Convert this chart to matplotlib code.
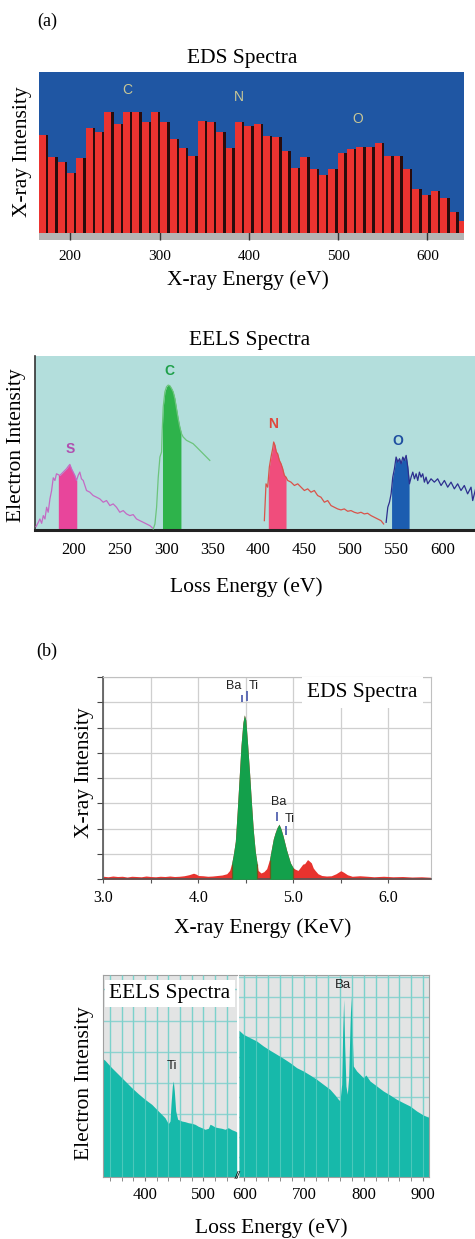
import numpy as np
import matplotlib
matplotlib.use("Agg")
from matplotlib import pyplot as plt

W, H = 475, 1239
SERIF = "Liberation Serif"
SANS = "Liberation Sans"
plt.rcParams["font.family"] = [SERIF, "DejaVu Serif"]

# ---------------- (a) EDS histogram ----------------
eds_a_centers = [170.2, 180.7, 191.1, 201.6, 212.0, 222.5, 232.9, 243.4, 253.8, 264.3,
                 274.7, 285.2, 295.6, 306.1, 316.5, 327.0, 337.4, 347.9, 358.3, 368.8,
                 379.2, 389.7, 400.1, 410.6, 421.0, 431.5, 441.9, 452.4, 462.8, 473.3,
                 483.7, 494.2, 504.6, 515.1, 525.5, 536.0, 546.4, 556.9, 567.3, 577.8,
                 588.2, 598.7, 609.1, 619.6, 630.0, 640.5]
eds_a_counts = [295, 230, 215, 180, 225, 315, 305, 365, 328, 365,
                365, 335, 365, 335, 283, 255, 233, 338, 335, 305,
                255, 335, 322, 329, 292, 288, 248, 195, 228, 193,
                175, 192, 240, 252, 258, 260, 270, 232, 232, 194,
                132, 115, 127, 104, 62, 35]
eds_a_bin = 10.45
eds_a_elements = ["C", "N", "O"]
eds_a_elem_x = [264, 389, 522]
eds_a_elem_y = [432, 410, 343]

# ---------------- (a) EELS edges ----------------
s_energy = [158.8, 161.3, 163.0, 164.9, 166.7, 168.5, 170.3, 172.0, 173.9, 175.7,
            177.5, 179.3, 181.0, 184.7, 188.3, 191.9, 193.7, 195.5, 197.3, 199.1,
            200.9, 202.7, 204.5, 206.3, 208.1, 210.0, 211.8, 213.6, 217.2, 220.8,
            224.5, 228.0, 231.7, 235.3, 238.9, 242.5, 246.1, 249.7, 253.4, 257.0,
            260.6, 264.2, 267.8, 271.4, 275.1, 278.7, 282.3, 285.2]
s_int = [10, 23, 33, 20, 43, 33, 68, 53, 93, 118,
         156, 148, 168, 163, 173, 183, 190, 196, 183, 173,
         163, 148, 163, 173, 153, 148, 133, 118, 113, 103,
         98, 93, 83, 88, 73, 78, 68, 53, 58, 48,
         43, 46, 33, 28, 23, 18, 13, 6]
c_energy = [286.0, 287.8, 289.6, 291.4, 293.2, 295.0, 295.7, 296.8, 298.6, 300.4,
            302.2, 304.0, 305.8, 307.6, 309.4, 311.2, 313.0, 314.8, 316.6, 318.4,
            322.0, 325.6, 329.2, 332.9, 336.5, 340.1, 343.7, 347.3]
c_int = [3, 18, 68, 158, 218, 233, 298, 368, 413, 428,
         433, 431, 423, 413, 393, 363, 333, 308, 288, 278,
         268, 263, 258, 248, 238, 228, 218, 208]
n_energy = [406.5, 408.3, 410.1, 411.9, 413.7, 415.5, 416.6, 418.0, 419.5, 420.9,
            422.8, 424.6, 426.4, 428.2, 430.0, 431.8, 435.4, 439.1, 442.7, 446.3,
            449.9, 453.5, 457.1, 460.7, 464.3, 467.9, 471.6, 475.2, 478.8, 482.4,
            486.0, 489.6, 493.2, 496.9, 500.5, 504.1, 507.7, 511.3, 514.9, 518.5,
            522.2, 525.8, 529.4, 533.0, 535.9]
n_int = [28, 138, 128, 188, 218, 243, 263, 253, 233, 228,
         208, 198, 183, 163, 158, 148, 143, 133, 138, 128,
         118, 123, 113, 118, 103, 98, 83, 88, 73, 68,
         63, 60, 63, 56, 58, 53, 50, 53, 48, 50,
         43, 38, 33, 28, 18]
o_energy = [538.6, 540.4, 542.2, 544.0, 545.8, 547.6, 549.4, 551.3, 553.1, 554.9,
            556.7, 558.5, 560.3, 562.1, 563.9, 565.7, 567.5, 569.3, 571.1, 572.9,
            574.7, 576.5, 578.3, 580.1, 581.9, 583.7, 587.3, 590.9, 594.5, 598.2,
            601.8, 605.4, 609.0, 612.6, 616.2, 619.8, 623.4, 627.0, 630.7, 632.5,
            634.3, 636.1]
o_int = [23, 68, 83, 108, 158, 183, 218, 203, 213, 198,
         218, 208, 223, 188, 138, 158, 173, 153, 168, 148,
         173, 158, 168, 143, 158, 138, 153, 143, 153, 133,
         148, 128, 143, 123, 138, 118, 133, 108, 128, 88,
         108, 128]
eels_a_windows = [(183, 203), (296, 316), (410.8, 430), (544.5, 563.5)]
eels_a_elements = ["S", "C", "N", "O"]
eels_a_elem_x = [196, 303.5, 416.2, 551.3]
eels_a_elem_y = [243, 476, 318, 266]

# ---------------- (b) EDS ----------------
eds_b_energy = [3.00, 3.05, 3.10, 3.15, 3.20, 3.25, 3.30, 3.35, 3.40, 3.45,
                3.50, 3.55, 3.60, 3.65, 3.70, 3.75, 3.80, 3.85, 3.90, 3.95,
                3.98, 4.00, 4.05, 4.10, 4.15, 4.20, 4.25, 4.30, 4.33, 4.35,
                4.37, 4.39, 4.41, 4.43, 4.45, 4.47, 4.485, 4.50, 4.52, 4.54,
                4.56, 4.58, 4.60, 4.62, 4.63, 4.66, 4.69, 4.72, 4.75, 4.77,
                4.79, 4.81, 4.83, 4.85, 4.87, 4.89, 4.91, 4.93, 4.95, 4.97,
                5.00, 5.02, 5.05, 5.08, 5.10, 5.12, 5.15, 5.17, 5.19, 5.21,
                5.23, 5.26, 5.30, 5.35, 5.40, 5.45, 5.50, 5.53, 5.57, 5.62,
                5.70, 5.78, 5.85, 5.95, 6.05, 6.15, 6.25, 6.35, 6.45]
eds_b_int = [0.12, 0.10, 0.13, 0.11, 0.12, 0.09, 0.12, 0.11, 0.10, 0.13,
             0.11, 0.10, 0.12, 0.11, 0.13, 0.11, 0.12, 0.14, 0.18, 0.24,
             0.20, 0.15, 0.14, 0.12, 0.13, 0.15, 0.17, 0.22, 0.35, 0.60,
             1.00, 1.50, 2.70, 4.00, 5.30, 6.20, 6.50, 6.30, 5.30, 4.20,
             3.00, 1.90, 1.10, 0.60, 0.35, 0.25, 0.30, 0.42, 0.78, 1.20,
             1.60, 1.85, 2.05, 2.18, 2.00, 1.75, 1.45, 1.15, 0.90, 0.65,
             0.45, 0.40, 0.35, 0.50, 0.60, 0.62, 0.78, 0.72, 0.65, 0.45,
             0.35, 0.22, 0.15, 0.13, 0.14, 0.22, 0.34, 0.28, 0.18, 0.12,
             0.14, 0.12, 0.10, 0.12, 0.10, 0.11, 0.09, 0.10, 0.08]
eds_b_windows = [(4.35, 4.62), (4.75, 5.00)]
eds_b_marks = ["Ba", "Ti", "Ba", "Ti"]
eds_b_mark_x = [4.372, 4.586, 4.849, 4.965]
eds_b_mark_y = [7.66, 7.66, 3.06, 2.38]
eds_b_tick_x = [4.463, 4.509, 4.828, 4.926]
eds_b_tick_lo = [7.0, 7.05, 2.3, 1.76]
eds_b_tick_hi = [7.3, 7.45, 2.65, 2.1]

# ---------------- (b) EELS ----------------
eels_ti_energy = [328.5, 331.4, 342.9, 354.3, 365.8, 377.3, 388.6, 400.0, 411.6, 422.9,
                  434.4, 440.1, 443.0, 444.7, 447.0, 448.7, 450.4, 452.8, 456.2, 463.0,
                  468.8, 474.4, 480.3, 485.9, 491.6, 497.5, 503.1, 508.8, 511.7, 514.6,
                  520.3, 526.0, 531.8, 537.5, 543.1, 549.0, 554.6, 557.5]
eels_ti_int = [118, 116.7, 109.3, 102.7, 96, 89.3, 83.3, 77.7, 72.7, 66,
               59.3, 53.3, 56, 72.7, 91, 96, 86, 66, 57.7, 56,
               55.3, 54.3, 53.7, 52.7, 50.7, 49.3, 47.7, 48.7, 52.7, 52,
               50, 49.3, 48.7, 47.7, 49.3, 47.3, 46, 45]
eels_ba_energy = [591.0, 598.3, 609.4, 620.6, 631.8, 643.0, 654.2, 665.3, 676.5, 687.7,
                  698.9, 710.0, 721.2, 732.3, 743.5, 751.9, 757.5, 760.3, 763.1, 764.8,
                  766.5, 768.1, 770.3, 772.5, 774.8, 777.0, 778.7, 780.4, 782.6, 788.2,
                  793.8, 799.3, 803.8, 806.0, 810.6, 821.8, 832.9, 844.1, 855.3, 866.4,
                  877.6, 888.8, 899.9, 910.0]
eels_ba_int = [146.7, 142.7, 139.3, 136, 131, 126.7, 122.7, 118.7, 114.3, 109.3,
               106, 102, 97.7, 92.7, 87.7, 82, 77.7, 76, 92.7, 146,
               177.7, 132.7, 91, 82.7, 99.3, 149.3, 181, 149.3, 111, 106,
               102.7, 99.3, 102, 100, 96, 91, 86, 82, 77.7, 74.3,
               71, 66, 62, 59.3]
eels_b_marks = ["Ti", "Ba"]
eels_b_mark_x = [445.9, 765.8]
eels_b_mark_y = [111, 192]

fig = plt.figure(figsize=(W / 100, H / 100), dpi=100)


def px_axes(left, top, right, bottom):
    return fig.add_axes([left / W, 1 - bottom / H, (right - left) / W, (bottom - top) / H])


def px_text(x, y, s, **kw):
    fig.text(x / W, 1 - y / H, s, ha="center", va="center", **kw)


def window(x, y, lo, hi):
    x = np.asarray(x, float)
    y = np.asarray(y, float)
    inside = (x > lo) & (x < hi)
    xs = np.concatenate([[lo], x[inside], [hi]])
    ys = np.concatenate([[np.interp(lo, x, y)], y[inside], [np.interp(hi, x, y)]])
    return xs, ys


# ---- panel (a) EDS ----
ax1 = px_axes(39, 72, 464, 240)
ax1.set_facecolor("#1f56a3")
ax1.axhspan(-21, 0, color="#b5b5b5", zorder=0.5)
centers = np.array(eds_a_centers)
ax1.bar(centers, eds_a_counts, width=eds_a_bin, color="#2a0c0c", zorder=2)
ax1.bar(centers - 0.13 * eds_a_bin, eds_a_counts, width=0.74 * eds_a_bin,
        color="#ec3330", zorder=3)
for s, x, y in zip(eds_a_elements, eds_a_elem_x, eds_a_elem_y):
    ax1.text(x, y, s, color="#c9c796", fontsize=10, family=SANS, ha="center", va="center")
ax1.set_xlim(165, 641)
ax1.set_ylim(-21, 485)
ax1.set_xticks([200, 300, 400, 500, 600])
ax1.set_yticks([])
ax1.tick_params(axis="x", direction="in", length=7, width=1, color="#333333",
                labelsize=11, pad=7)
for sp in ax1.spines.values():
    sp.set_visible(False)

px_text(47, 21, "(a)", fontsize=13)
px_text(242, 58, "EDS Spectra", fontsize=15.5)
px_text(23, 152, "X-ray Intensity", fontsize=15.5, rotation=90)
px_text(248, 280, "X-ray Energy (eV)", fontsize=15.5)

# ---- panel (a) EELS ----
ax2 = px_axes(35, 356, 475, 530)
ax2.set_facecolor("#b3dedc")
curves = [(s_energy, s_int, "#c46ac4", "#e8459b", "#b04fb0"),
          (c_energy, c_int, "#6cc47c", "#2eb34b", "#1fa04a"),
          (n_energy, n_int, "#d9534a", "#f04d7c", "#e0473c"),
          (o_energy, o_int, "#2d2f8f", "#1c5db0", "#1f4fa0")]
for (x, y, lc, fc, tc), (lo, hi), s, tx, ty in zip(curves, eels_a_windows, eels_a_elements,
                                                     eels_a_elem_x, eels_a_elem_y):
    ax2.plot(x, y, color=lc, lw=0.9, zorder=3)
    xs, ys = window(x, y, lo, hi)
    ax2.fill_between(xs, 0, ys, color=fc, lw=0, zorder=2)
    ax2.text(tx, ty, s, color=tc, fontsize=10, family=SANS, fontweight="bold",
             ha="center", va="center")
ax2.set_xlim(157.7, 635)
ax2.set_ylim(0, 520)
ax2.set_xticks(range(200, 601, 50))
ax2.set_yticks([])
ax2.tick_params(axis="x", length=0, labelsize=12, pad=9)
ax2.spines["top"].set_visible(False)
ax2.spines["right"].set_visible(False)
ax2.spines["bottom"].set_linewidth(2.2)
ax2.spines["bottom"].set_color("#222222")
ax2.spines["left"].set_color("#333333")
ax2.spines["left"].set_linewidth(1.2)

px_text(250, 340, "EELS Spectra", fontsize=15.5)
px_text(17, 445, "Electron Intensity", fontsize=15.5, rotation=90)
px_text(246, 587, "Loss Energy (eV)", fontsize=15.5)

# ---- panel (b) EDS ----
ax3 = px_axes(103.3, 677, 431, 879.3)
ax3.set_xlim(3.0, 6.45)
ax3.set_ylim(0, 8)
ax3.set_xticks(np.arange(3.0, 6.01, 0.5))
ax3.set_xticklabels(["3.0", "", "4.0", "", "5.0", "", "6.0"])
ax3.set_yticks(range(0, 9))
ax3.set_yticklabels([])
ax3.grid(color="#cfcfcf", lw=0.9, zorder=0)
ax3.set_axisbelow(True)
ax3.fill_between(eds_b_energy, 0, eds_b_int, color="#e8332e", lw=0, zorder=2)
for lo, hi in eds_b_windows:
    xs, ys = window(eds_b_energy, eds_b_int, lo, hi)
    ax3.fill_between(xs, 0, ys, color="#13a04b", lw=0, zorder=3)
    ax3.vlines([lo, hi], 0, [ys[0], ys[-1]], color="#6b5a1e", lw=0.9, zorder=4)
for s, x, y in zip(eds_b_marks, eds_b_mark_x, eds_b_mark_y):
    ax3.text(x, y, s, fontsize=9, family=SANS, ha="center", va="center", color="#222222")
ax3.vlines(eds_b_tick_x, eds_b_tick_lo, eds_b_tick_hi, color="#5462b0", lw=1.3, zorder=5)
ax3.text(5.73, 7.39, "EDS Spectra", fontsize=15.5, ha="center", va="center", zorder=6,
         bbox=dict(facecolor="white", edgecolor="none", pad=4))
ax3.tick_params(axis="x", direction="out", length=3, color="#555555", labelsize=11.5, pad=5)
ax3.tick_params(axis="y", direction="out", length=4, color="#444444")
for side in ["top", "right"]:
    ax3.spines[side].set_color("#c0c0c0")
for side in ["left", "bottom"]:
    ax3.spines[side].set_color("#555555")
    ax3.spines[side].set_linewidth(1.2)

px_text(47, 651, "(b)", fontsize=13)
px_text(85, 773, "X-ray Intensity", fontsize=15.5, rotation=90)
px_text(263, 928, "X-ray Energy (KeV)", fontsize=15.5)

# ---- panel (b) EELS (broken axis) ----
ax4a = px_axes(103.3, 975, 236.7, 1177)
ax4b = px_axes(239, 975, 429.3, 1177)
grid_c = "#8fd2d0"
fill_c = "#17b9aa"
for ax, x, y, xl, gstep in [(ax4a, eels_ti_energy, eels_ti_int, (328.5, 557.5), 31.3),
                            (ax4b, eels_ba_energy, eels_ba_int, (591, 910), 20)]:
    ax.set_facecolor("#e3e4e4")
    ax.set_xlim(*xl)
    ax.set_ylim(0, 202)
    for g in np.arange(gstep, 202, gstep):
        ax.axhline(g, color=grid_c, lw=1.0, zorder=1)
    vg = np.arange(np.ceil(xl[0] / 20) * 20, xl[1], 20)
    for g in vg:
        ax.axvline(g, color=grid_c, lw=1.0, zorder=1)
    ax.fill_between(x, 0, y, color=fill_c, lw=0, zorder=2)
    for g in vg:
        ax.axvline(g, color="#6fd3c8", lw=0.8, alpha=0.6, zorder=3)
    ax.set_xticks(vg, minor=True)
    ax.set_xticks([t for t in range(400, 901, 100) if xl[0] < t < xl[1]])
    ax.set_yticks([])
    ax.tick_params(axis="x", which="both", direction="out", length=3, color="#777777",
                   labelsize=12, pad=4)
    for sp in ax.spines.values():
        sp.set_color("#a0a0a0")
ax4a.spines["right"].set_visible(False)
ax4b.spines["left"].set_visible(False)
for s, x, y in zip(eels_b_marks, eels_b_mark_x, eels_b_mark_y):
    ax = ax4a if x < 560 else ax4b
    ax.text(x, y, s, fontsize=9.5, family=SANS, ha="center", va="center",
            color="#222222", zorder=5)
ax4a.text(0.5, 0.91, "EELS Spectra", transform=ax4a.transAxes, fontsize=15.5,
          ha="center", va="center", zorder=6,
          bbox=dict(facecolor="white", edgecolor="none", pad=3))
px_text(237.5, 1176, "//", fontsize=7, family=SANS, fontstyle="italic")

px_text(85, 1083, "Electron Intensity", fontsize=15.5, rotation=90)
px_text(271, 1228, "Loss Energy (eV)", fontsize=15.5)

fig.savefig("out.png", dpi=100)
